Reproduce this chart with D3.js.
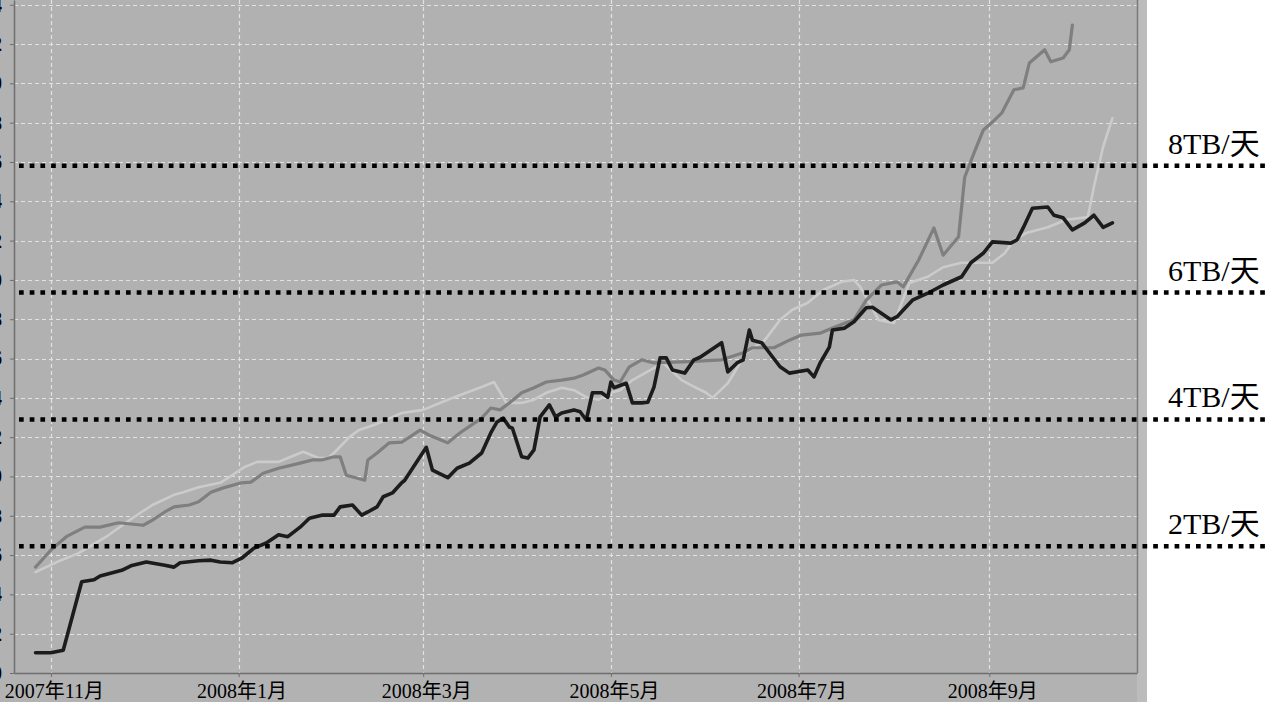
<!DOCTYPE html>
<html><head><meta charset="utf-8">
<script src="https://cdn.jsdelivr.net/npm/d3@7"></script>
<style>html,body{margin:0;padding:0;background:#fff;overflow:hidden}svg{display:block}</style>
</head><body>
<script>
// ---------- data ----------
const seriesBlack = [["2007-10-27",0.32],["2007-11-01",0.32],["2007-11-05",0.36],["2007-11-11",1.44],["2007-11-15",1.47],["2007-11-17",1.53],["2007-11-24",1.62],["2007-11-27",1.69],["2007-12-02",1.75],["2007-12-08",1.70],["2007-12-11",1.67],["2007-12-13",1.74],["2007-12-19",1.77],["2007-12-23",1.78],["2007-12-26",1.75],["2007-12-30",1.74],["2008-01-02",1.81],["2008-01-06",1.97],["2008-01-10",2.05],["2008-01-14",2.18],["2008-01-17",2.15],["2008-01-21",2.30],["2008-01-24",2.44],["2008-01-28",2.49],["2008-02-01",2.49],["2008-02-03",2.62],["2008-02-07",2.65],["2008-02-10",2.49],["2008-02-12",2.54],["2008-02-15",2.62],["2008-02-17",2.78],["2008-02-20",2.84],["2008-02-23",3.00],["2008-02-24",3.04],["2008-03-02",3.56],["2008-03-04",3.20],["2008-03-09",3.08],["2008-03-12",3.23],["2008-03-16",3.31],["2008-03-20",3.47],["2008-03-23",3.79],["2008-03-25",3.96],["2008-03-27",4.02],["2008-03-29",3.88],["2008-03-30",3.86],["2008-04-02",3.41],["2008-04-04",3.39],["2008-04-06",3.52],["2008-04-08",4.04],["2008-04-11",4.23],["2008-04-13",4.04],["2008-04-15",4.10],["2008-04-19",4.15],["2008-04-21",4.12],["2008-04-23",3.99],["2008-04-25",4.42],["2008-04-28",4.42],["2008-04-30",4.35],["2008-05-01",4.59],["2008-05-02",4.50],["2008-05-06",4.57],["2008-05-08",4.26],["2008-05-11",4.26],["2008-05-13",4.27],["2008-05-15",4.51],["2008-05-17",4.97],["2008-05-19",4.97],["2008-05-21",4.78],["2008-05-25",4.73],["2008-05-28",4.94],["2008-05-30",4.98],["2008-06-06",5.21],["2008-06-08",4.75],["2008-06-11",4.89],["2008-06-13",4.94],["2008-06-15",5.41],["2008-06-16",5.25],["2008-06-19",5.21],["2008-06-22",5.02],["2008-06-25",4.83],["2008-06-28",4.73],["2008-07-04",4.78],["2008-07-06",4.67],["2008-07-08",4.89],["2008-07-11",5.14],["2008-07-12",5.41],["2008-07-16",5.44],["2008-07-19",5.54],["2008-07-23",5.76],["2008-07-25",5.77],["2008-07-31",5.57],["2008-08-02",5.62],["2008-08-07",5.88],["2008-08-12",5.99],["2008-08-17",6.12],["2008-08-23",6.25],["2008-08-26",6.47],["2008-08-30",6.62],["2008-09-02",6.80],["2008-09-08",6.78],["2008-09-10",6.83],["2008-09-12",7.02],["2008-09-15",7.33],["2008-09-20",7.35],["2008-09-22",7.22],["2008-09-25",7.18],["2008-09-28",6.99],["2008-10-02",7.10],["2008-10-05",7.22],["2008-10-08",7.03],["2008-10-11",7.10]];

const seriesMid = [["2007-10-27",1.67],["2007-11-01",1.94],["2007-11-06",2.15],["2007-11-12",2.30],["2007-11-17",2.30],["2007-11-23",2.37],["2007-11-27",2.35],["2007-12-01",2.33],["2007-12-04",2.41],["2007-12-08",2.54],["2007-12-11",2.62],["2007-12-16",2.65],["2007-12-19",2.70],["2007-12-23",2.85],["2007-12-27",2.92],["2008-01-02",3.00],["2008-01-05",3.01],["2008-01-09",3.15],["2008-01-14",3.23],["2008-01-21",3.31],["2008-01-25",3.36],["2008-01-28",3.36],["2008-02-01",3.41],["2008-02-03",3.41],["2008-02-05",3.12],["2008-02-11",3.04],["2008-02-12",3.36],["2008-02-15",3.47],["2008-02-19",3.63],["2008-02-23",3.64],["2008-02-29",3.83],["2008-03-03",3.75],["2008-03-09",3.63],["2008-03-13",3.79],["2008-03-20",4.02],["2008-03-23",4.18],["2008-03-26",4.15],["2008-03-29",4.26],["2008-04-02",4.42],["2008-04-06",4.50],["2008-04-10",4.59],["2008-04-15",4.62],["2008-04-19",4.65],["2008-04-22",4.70],["2008-04-27",4.81],["2008-04-29",4.78],["2008-05-02",4.62],["2008-05-04",4.59],["2008-05-07",4.83],["2008-05-11",4.94],["2008-05-15",4.89],["2008-05-26",4.91],["2008-06-06",4.94],["2008-06-13",5.05],["2008-06-16",5.13],["2008-06-23",5.13],["2008-06-28",5.25],["2008-07-02",5.33],["2008-07-08",5.36],["2008-07-12",5.44],["2008-07-19",5.57],["2008-07-23",5.88],["2008-07-28",6.12],["2008-08-02",6.17],["2008-08-04",6.09],["2008-08-09",6.51],["2008-08-14",7.02],["2008-08-17",6.59],["2008-08-22",6.88],["2008-08-24",7.82],["2008-08-27",8.20],["2008-08-30",8.56],["2008-09-02",8.69],["2008-09-05",8.83],["2008-09-09",9.20],["2008-09-12",9.23],["2008-09-14",9.62],["2008-09-19",9.83],["2008-09-21",9.64],["2008-09-25",9.70],["2008-09-27",9.83],["2008-09-28",10.22]];

const seriesLight = [["2007-10-27",1.59],["2007-11-03",1.75],["2007-11-10",1.89],["2007-11-19",2.15],["2007-11-28",2.46],["2007-12-04",2.65],["2007-12-11",2.81],["2007-12-14",2.85],["2007-12-19",2.93],["2007-12-26",3.00],["2007-12-29",3.09],["2008-01-03",3.25],["2008-01-07",3.33],["2008-01-14",3.33],["2008-01-18",3.41],["2008-01-22",3.49],["2008-01-27",3.39],["2008-01-30",3.39],["2008-02-01",3.47],["2008-02-06",3.72],["2008-02-09",3.83],["2008-02-14",3.91],["2008-02-23",4.10],["2008-03-01",4.15],["2008-03-09",4.31],["2008-03-15",4.42],["2008-03-20",4.51],["2008-03-24",4.59],["2008-03-28",4.26],["2008-04-02",4.26],["2008-04-06",4.31],["2008-04-10",4.42],["2008-04-15",4.50],["2008-04-19",4.46],["2008-04-23",4.35],["2008-04-27",4.31],["2008-05-01",4.42],["2008-05-04",4.46],["2008-05-08",4.62],["2008-05-18",4.89],["2008-05-24",4.62],["2008-05-27",4.54],["2008-06-01",4.42],["2008-06-03",4.34],["2008-06-08",4.57],["2008-06-14",5.05],["2008-06-20",5.25],["2008-06-25",5.57],["2008-06-29",5.73],["2008-07-04",5.84],["2008-07-09",6.04],["2008-07-15",6.17],["2008-07-19",6.20],["2008-07-21",6.09],["2008-07-24",5.84],["2008-07-27",5.57],["2008-08-01",5.52],["2008-08-06",6.15],["2008-08-12",6.25],["2008-08-17",6.40],["2008-08-23",6.47],["2008-09-02",6.47],["2008-09-06",6.62],["2008-09-09",6.83],["2008-09-13",6.94],["2008-09-20",7.03],["2008-09-26",7.15],["2008-10-03",7.19],["2008-10-05",7.67],["2008-10-08",8.30],["2008-10-11",8.75]];

const xTickDates = ["2007-11-01","2008-01-01","2008-03-01","2008-05-01","2008-07-01","2008-09-01"];
const xTickLabels = ["2007年11月","2008年1月","2008年3月","2008年5月","2008年7月","2008年9月"];
const yTickValues = [0,0.62,1.24,1.86,2.48,3.10,3.72,4.34,4.96,5.58,6.20,6.82,7.44,8.06,8.68,9.30,9.92,10.54];
const thresholdValues = [2,4,6,8];
const thresholdLabels = ["2TB/天","4TB/天","6TB/天","8TB/天"];
const xDomain = ["2007-10-20","2008-10-19"];
const yDomain = [0, 10.615];

// ---------- layout ----------
const W = 1270, H = 702;
const plot = {left: 14, right: 1137, top: 0, bottom: 673};
const panelRight = 1147;
const parse = d3.timeParse("%Y-%m-%d");

const svg = d3.select("body").append("svg").attr("width", W).attr("height", H);
svg.append("rect").attr("width", W).attr("height", H).attr("fill", "#fff");
svg.append("rect").attr("x", 0).attr("y", 0).attr("width", panelRight).attr("height", H).attr("fill", "#b2b2b2");
svg.append("rect").attr("x", plot.right).attr("y", 0).attr("width", panelRight - plot.right).attr("height", H).attr("fill", "#bcbcbc");
svg.append("rect").attr("x", plot.left).attr("y", plot.top).attr("width", plot.right - plot.left).attr("height", plot.bottom - plot.top).attr("fill", "#b1b1b1");

const x = d3.scaleTime().domain(xDomain.map(parse)).range([plot.left, plot.right]);
const y = d3.scaleLinear().domain(yDomain).range([plot.bottom, plot.top]);

// grid
const grid = svg.append("g");
grid.selectAll(".hg").data(yTickValues.slice(1)).join("line")
  .attr("x1", plot.left).attr("x2", plot.right)
  .attr("y1", d => Math.round(y(d)) + 0.5).attr("y2", d => Math.round(y(d)) + 0.5)
  .attr("stroke", "#e2e2e2").attr("stroke-width", 1.2).attr("stroke-dasharray", "4,3");
grid.selectAll(".vg").data(xTickDates.map(parse)).join("line")
  .attr("x1", d => Math.round(x(d)) + 0.5).attr("x2", d => Math.round(x(d)) + 0.5)
  .attr("y1", plot.top).attr("y2", plot.bottom)
  .attr("stroke", "#e2e2e2").attr("stroke-width", 1.2).attr("stroke-dasharray", "4,3");

// axes
const xAxis = d3.axisBottom(x).tickValues(xTickDates.map(parse))
  .tickFormat((d, i) => xTickLabels[i]).tickSize(4).tickSizeOuter(0);
const gx = svg.append("g").attr("transform", `translate(0,${plot.bottom})`).call(xAxis);
gx.select(".domain").attr("stroke", "#6e6e6e").attr("stroke-width", 1.5);
gx.selectAll(".tick line").attr("stroke", "#6e6e6e");
gx.selectAll(".tick text").attr("fill", "#000").attr("font-size", 20)
  .attr("font-family", "'Liberation Serif','Noto Sans CJK SC',serif")
  .attr("dy", null).attr("y", 25).attr("dx", 3);

const yAxis = d3.axisLeft(y).tickValues(yTickValues).tickFormat(d3.format(".2f")).tickSize(4).tickSizeOuter(0);
const gy = svg.append("g").attr("transform", `translate(${plot.left},0)`).call(yAxis);
gy.select(".domain").attr("stroke", "#6e6e6e").attr("stroke-width", 1.5);
gy.selectAll(".tick line").attr("stroke", "#6e6e6e");
gy.selectAll(".tick text").attr("fill", "#000").attr("font-size", 20).attr("font-weight", "bold")
  .attr("font-family", "'Liberation Serif',serif").attr("x", -12);

// plot right border
svg.append("line").attr("x1", plot.right + 0.5).attr("x2", plot.right + 0.5)
  .attr("y1", 0).attr("y2", plot.bottom).attr("stroke", "#7a7a7a").attr("stroke-width", 1.5);

// lines
svg.append("clipPath").attr("id", "clip").append("rect")
  .attr("x", plot.left).attr("y", plot.top).attr("width", plot.right - plot.left).attr("height", plot.bottom - plot.top);
const line = d3.line().x(d => x(parse(d[0]))).y(d => y(d[1])).curve(d3.curveLinear);
const lg = svg.append("g").attr("clip-path", "url(#clip)");
[[seriesLight, "#cbcbcb", 2.6], [seriesMid, "#7f7f7f", 3.2], [seriesBlack, "#1c1c1c", 3.6]].forEach(([s, c, w]) => {
  lg.append("path").datum(s).attr("d", line).attr("fill", "none")
    .attr("stroke", c).attr("stroke-width", w).attr("stroke-linejoin", "round").attr("stroke-linecap", "round");
});

// thresholds
const th = svg.append("g");
th.selectAll("line").data(thresholdValues).join("line")
  .attr("x1", 19).attr("x2", W)
  .attr("y1", d => y(d)).attr("y2", d => y(d))
  .attr("stroke", "#000").attr("stroke-width", 4.5).attr("stroke-dasharray", "4.7,6");
th.selectAll("text").data(thresholdValues).join("text")
  .attr("x", 1168).attr("y", d => y(d) - 12)
  .attr("font-size", 30).attr("font-family", "'Liberation Serif','Noto Sans CJK SC',serif")
  .attr("fill", "#000").text((d, i) => thresholdLabels[i]);
</script>
</body></html>
